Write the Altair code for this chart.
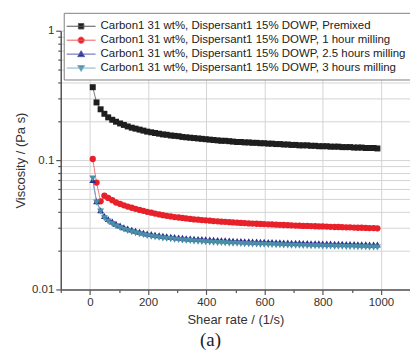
import altair as alt
import pandas as pd

shear = [10, 23, 37, 50, 63, 77, 90, 104, 117, 130, 144, 157, 171, 184, 197, 211, 224, 238, 251, 264,
         278, 291, 305, 318, 331, 345, 358, 372, 385, 398, 412, 425, 439, 452, 465, 479, 492, 506, 519, 532,
         546, 559, 573, 586, 599, 613, 626, 640, 653, 666, 680, 693, 707, 720, 733, 747, 760, 774, 787, 800,
         814, 827, 841, 854, 867, 881, 894, 908, 921, 934, 948, 961, 975, 988]

premixed = [0.366, 0.279, 0.247, 0.228, 0.214, 0.205, 0.198, 0.192, 0.187, 0.182, 0.178, 0.175, 0.172, 0.169,
            0.166, 0.164, 0.162, 0.160, 0.158, 0.157, 0.155, 0.154, 0.153, 0.151, 0.150, 0.149, 0.148, 0.147,
            0.146, 0.145, 0.144, 0.143, 0.142, 0.141, 0.141, 0.140, 0.139, 0.138, 0.138, 0.137, 0.137, 0.136,
            0.136, 0.135, 0.135, 0.134, 0.134, 0.133, 0.133, 0.132, 0.132, 0.131, 0.131, 0.130, 0.130, 0.130,
            0.129, 0.129, 0.128, 0.128, 0.128, 0.127, 0.127, 0.127, 0.126, 0.126, 0.126, 0.125, 0.125, 0.125,
            0.124, 0.124, 0.124, 0.123]

milled_1h = [0.102, 0.067, 0.048, 0.053, 0.051, 0.049, 0.047, 0.0458, 0.0447, 0.0437, 0.0428, 0.0420, 0.0412,
             0.0405, 0.0398, 0.0392, 0.0386, 0.0380, 0.0375, 0.0371, 0.0367, 0.0363, 0.0360, 0.0357, 0.0354,
             0.0351, 0.0348, 0.0346, 0.0344, 0.0342, 0.0340, 0.0338, 0.0336, 0.0334, 0.0333, 0.0331, 0.0330,
             0.0328, 0.0327, 0.0326, 0.0324, 0.0323, 0.0322, 0.0321, 0.0320, 0.0319, 0.0318, 0.0317, 0.0316,
             0.0315, 0.0314, 0.0313, 0.0312, 0.0311, 0.0310, 0.0310, 0.0309, 0.0308, 0.0307, 0.0307, 0.0306,
             0.0305, 0.0304, 0.0304, 0.0303, 0.0302, 0.0302, 0.0301, 0.0300, 0.0300, 0.0299, 0.0298, 0.0298,
             0.0297]

milled_25h = [0.070, 0.048, 0.041, 0.037, 0.035, 0.0335, 0.0322, 0.0312, 0.0303, 0.0296, 0.0290, 0.0284,
              0.0279, 0.0275, 0.0271, 0.0268, 0.0265, 0.0262, 0.0260, 0.0258, 0.0256, 0.0254, 0.0252, 0.0251,
              0.0249, 0.0248, 0.0247, 0.0246, 0.0245, 0.0244, 0.0243, 0.0242, 0.0241, 0.0240, 0.0240, 0.0239,
              0.0238, 0.0237, 0.0237, 0.0236, 0.0236, 0.0235, 0.0235, 0.0234, 0.0234, 0.0233, 0.0233, 0.0232,
              0.0232, 0.0231, 0.0231, 0.0230, 0.0230, 0.0230, 0.0229, 0.0229, 0.0228, 0.0228, 0.0228, 0.0227,
              0.0227, 0.0227, 0.0226, 0.0226, 0.0226, 0.0225, 0.0225, 0.0225, 0.0224, 0.0224, 0.0224, 0.0223,
              0.0223, 0.0223]

milled_3h = [0.072, 0.047, 0.040, 0.0355, 0.0335, 0.032, 0.0308, 0.0298, 0.0290, 0.0283, 0.0277, 0.0272,
             0.0267, 0.0263, 0.0259, 0.0256, 0.0253, 0.0251, 0.0248, 0.0246, 0.0244, 0.0242, 0.0241, 0.0239,
             0.0238, 0.0237, 0.0235, 0.0234, 0.0233, 0.0232, 0.0231, 0.0230, 0.0229, 0.0229, 0.0228, 0.0227,
             0.0226, 0.0226, 0.0225, 0.0224, 0.0224, 0.0223, 0.0223, 0.0222, 0.0222, 0.0221, 0.0221, 0.0220,
             0.0220, 0.0219, 0.0219, 0.0218, 0.0218, 0.0218, 0.0217, 0.0217, 0.0216, 0.0216, 0.0216, 0.0215,
             0.0215, 0.0215, 0.0214, 0.0214, 0.0214, 0.0213, 0.0213, 0.0213, 0.0212, 0.0212, 0.0212, 0.0211,
             0.0211, 0.0211]

names = [
    "Carbon1 31 wt%, Dispersant1 15% DOWP, Premixed",
    "Carbon1 31 wt%, Dispersant1 15% DOWP, 1 hour milling",
    "Carbon1 31 wt%, Dispersant1 15% DOWP, 2.5 hours milling",
    "Carbon1 31 wt%, Dispersant1 15% DOWP, 3 hours milling",
]
colors = ["#1e1e1e", "#e8202a", "#2c2f8f", "#4b8ea8"]
line_colors = ["#555555", "#ee5a60", "#5a5fb0", "#7fb0c4"]
shapes = ["square", "circle", "triangle-up", "triangle-down"]
sizes = [36, 40, 48, 48]
legend_paths = [
    "M-2.07,0H2.07M-0.39,-0.39H0.39V0.39H-0.39Z",
    "M-2.07,0H2.07M-0.45,0A0.45,0.45 0 1,0 0.45,0A0.45,0.45 0 1,0 -0.45,0Z",
    "M-2.07,0H2.07M0,-0.48L0.5,0.36L-0.5,0.36Z",
    "M-2.07,0H2.07M0,0.48L0.5,-0.36L-0.5,-0.36Z",
]
x_ticks = [-100, 0, 100, 200, 300, 400, 500, 600, 700, 800, 900, 1000, 1100]
y_ticks = [0.01, 0.02, 0.03, 0.04, 0.05, 0.06, 0.07, 0.08, 0.09,
           0.1, 0.2, 0.3, 0.4, 0.5, 0.6, 0.7, 0.8, 0.9, 1]

series_values = [premixed, milled_1h, milled_25h, milled_3h]
rows = []
for name, vals in zip(names, series_values):
    for s, v in zip(shear, vals):
        rows.append({"shear": s, "visc": v, "series": name})
df = pd.DataFrame(rows)

FONT = "Liberation Sans"
DEC = "abs(datum.value - 1) < 1e-9 || abs(datum.value - 0.1) < 1e-9 || abs(datum.value - 0.01) < 1e-9"

x_enc = alt.X("shear:Q", scale=alt.Scale(domain=[-100, 1100], nice=False, zero=False),
              axis=alt.Axis(values=x_ticks, title="Shear rate / (1/s)",
                            labelExpr="datum.value % 200 == 0 && datum.value >= 0 && datum.value <= 1000 ? datum.label : ''",
                            tickSize={"condition": {"test": "datum.value % 200 == 0", "value": 5}, "value": 3},
                            gridOpacity={"condition": {"test": "datum.value % 200 == 0 && datum.value >= 0 && datum.value <= 1000", "value": 1}, "value": 0},
                            format="d"))
y_enc = alt.Y("visc:Q", scale=alt.Scale(type="log", domain=[0.01, 1], nice=False),
              axis=alt.Axis(values=y_ticks, title="Viscosity / (Pa s)", format="~g",
                            labelExpr="(" + DEC + ") ? datum.label : ''",
                            tickSize={"condition": {"test": DEC, "value": 5}, "value": 3}))

base = alt.Chart(df)

layers = []
for name, col, lcol in zip(names, colors, line_colors):
    layers.append(
        base.transform_filter(alt.datum.series == name)
        .mark_line(strokeWidth=0.8, color=lcol)
        .encode(x=x_enc, y=y_enc)
    )
for name, col, shp, sz in zip(names, colors, shapes, sizes):
    layers.append(
        base.transform_filter(alt.datum.series == name)
        .mark_point(filled=True, size=sz, opacity=1, shape=shp, color=col)
        .encode(x=x_enc, y=y_enc)
    )

legend_layer = base.transform_filter("false").mark_point(filled=False, strokeWidth=1, opacity=1).encode(
    x=x_enc, y=y_enc,
    stroke=alt.Stroke("series:N", scale=alt.Scale(domain=names, range=line_colors), title=None),
    fill=alt.Fill("series:N", scale=alt.Scale(domain=names, range=colors), title=None),
    shape=alt.Shape("series:N", scale=alt.Scale(domain=names, range=legend_paths), title=None),
)
layers.append(legend_layer)

chart = alt.layer(*layers).properties(
    width=351, height=260,
    autosize=alt.AutoSizeParams(type="none"),
    padding={"left": 53, "top": 22, "right": 0, "bottom": 60},
    title=alt.TitleParams("(a)", orient="bottom", anchor="middle", dx=-25, offset=4,
                          font="Liberation Serif", fontSize=19, fontWeight="normal", color="#222"),
).configure_view(stroke=None).configure_axis(
    labelFont=FONT, labelFontSize=11.5, labelColor="#333",
    titleFont=FONT, titleFontSize=13, titleFontWeight="normal", titleColor="#333",
    domainColor="#555", domainWidth=1.5, tickColor="#555", tickWidth=1.2,
    gridColor="#d4d4d4", gridWidth=1,
).configure_axisX(labelPadding=2, titlePadding=6).configure_axisY(labelPadding=2, titlePadding=4).configure_legend(
    orient="none", legendX=3, legendY=-18,
    fillColor="white", strokeColor="#808080", padding=6,
    labelFont=FONT, labelFontSize=11.5, labelColor="#222", labelLimit=400,
    symbolSize=196, symbolStrokeWidth=1, rowPadding=1, labelOffset=12, symbolOffset=4,
)

chart.save("out.html", embed_options={"renderer": "svg", "actions": False})
